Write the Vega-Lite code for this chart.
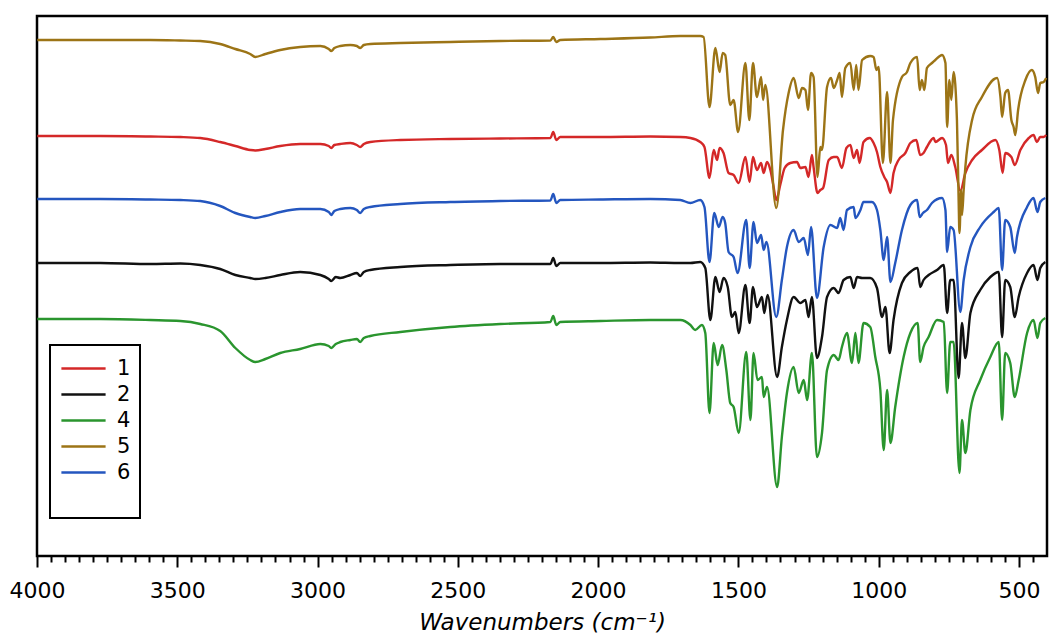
{
"$schema": "https://vega.github.io/schema/vega-lite/v6.json",
"width": 1010, "height": 540,
"autosize": {"type": "none"},
"padding": {"left": 37, "top": 16, "right": 5, "bottom": 83},
"background": "white",
"config": {"view": {"stroke": "black", "strokeWidth": 2.5}, "font": "DejaVu Sans", "legend": {"strokeWidth": 2}},
"datasets": {
"spectra": [
{"s":"4","w":3999,"v":237},{"s":"4","w":3774,"v":237},{"s":"4","w":3596,"v":236},{"s":"4","w":3489,"v":235},{"s":"4","w":3418,"v":232},{"s":"4","w":3347,"v":225},{"s":"4","w":3293,"v":208},{"s":"4","w":3240,"v":196},{"s":"4","w":3222,"v":194},{"s":"4","w":3186,"v":197},{"s":"4","w":3133,"v":203},{"s":"4","w":3062,"v":207},{"s":"4","w":2990,"v":212},{"s":"4","w":2960,"v":210},{"s":"4","w":2951,"v":208},{"s":"4","w":2935,"v":212},{"s":"4","w":2919,"v":214},{"s":"4","w":2883,"v":216},{"s":"4","w":2860,"v":217},{"s":"4","w":2848,"v":214},{"s":"4","w":2835,"v":218},{"s":"4","w":2812,"v":220},{"s":"4","w":2705,"v":224},{"s":"4","w":2527,"v":229},{"s":"4","w":2349,"v":232},{"s":"4","w":2170,"v":234},{"s":"4","w":2160,"v":240},{"s":"4","w":2149,"v":231},{"s":"4","w":2135,"v":234},{"s":"4","w":1992,"v":235},{"s":"4","w":1814,"v":236},{"s":"4","w":1707,"v":236},{"s":"4","w":1671,"v":231},{"s":"4","w":1654,"v":226},{"s":"4","w":1630,"v":231},{"s":"4","w":1618,"v":223},{"s":"4","w":1603,"v":143},{"s":"4","w":1588,"v":213},{"s":"4","w":1574,"v":191},{"s":"4","w":1558,"v":211},{"s":"4","w":1543,"v":186},{"s":"4","w":1529,"v":153},{"s":"4","w":1517,"v":149},{"s":"4","w":1499,"v":123},{"s":"4","w":1472,"v":204},{"s":"4","w":1457,"v":136},{"s":"4","w":1446,"v":203},{"s":"4","w":1432,"v":176},{"s":"4","w":1416,"v":179},{"s":"4","w":1410,"v":159},{"s":"4","w":1398,"v":169},{"s":"4","w":1362,"v":69},{"s":"4","w":1345,"v":119},{"s":"4","w":1327,"v":163},{"s":"4","w":1303,"v":189},{"s":"4","w":1285,"v":163},{"s":"4","w":1267,"v":176},{"s":"4","w":1255,"v":156},{"s":"4","w":1238,"v":203},{"s":"4","w":1220,"v":99},{"s":"4","w":1202,"v":123},{"s":"4","w":1184,"v":186},{"s":"4","w":1160,"v":201},{"s":"4","w":1143,"v":196},{"s":"4","w":1131,"v":209},{"s":"4","w":1113,"v":223},{"s":"4","w":1095,"v":193},{"s":"4","w":1083,"v":223},{"s":"4","w":1072,"v":193},{"s":"4","w":1054,"v":233},{"s":"4","w":1030,"v":229},{"s":"4","w":1012,"v":199},{"s":"4","w":994,"v":166},{"s":"4","w":982,"v":106},{"s":"4","w":970,"v":166},{"s":"4","w":958,"v":113},{"s":"4","w":941,"v":149},{"s":"4","w":911,"v":199},{"s":"4","w":887,"v":223},{"s":"4","w":861,"v":233},{"s":"4","w":852,"v":194},{"s":"4","w":840,"v":209},{"s":"4","w":822,"v":219},{"s":"4","w":792,"v":236},{"s":"4","w":768,"v":234},{"s":"4","w":756,"v":163},{"s":"4","w":745,"v":214},{"s":"4","w":733,"v":214},{"s":"4","w":712,"v":83},{"s":"4","w":703,"v":136},{"s":"4","w":691,"v":103},{"s":"4","w":673,"v":146},{"s":"4","w":638,"v":176},{"s":"4","w":602,"v":199},{"s":"4","w":572,"v":214},{"s":"4","w":560,"v":136},{"s":"4","w":549,"v":203},{"s":"4","w":531,"v":193},{"s":"4","w":515,"v":159},{"s":"4","w":501,"v":176},{"s":"4","w":471,"v":223},{"s":"4","w":448,"v":236},{"s":"4","w":434,"v":218},{"s":"4","w":424,"v":233},{"s":"4","w":406,"v":238},
{"s":"2","w":3999,"v":293},{"s":"2","w":3774,"v":293},{"s":"2","w":3596,"v":292},{"s":"2","w":3489,"v":292.5},{"s":"2","w":3418,"v":291},{"s":"2","w":3347,"v":287},{"s":"2","w":3293,"v":281},{"s":"2","w":3240,"v":278},{"s":"2","w":3222,"v":277},{"s":"2","w":3186,"v":278},{"s":"2","w":3133,"v":281},{"s":"2","w":3062,"v":284},{"s":"2","w":2990,"v":281},{"s":"2","w":2960,"v":277},{"s":"2","w":2951,"v":275},{"s":"2","w":2935,"v":279},{"s":"2","w":2919,"v":278},{"s":"2","w":2883,"v":281},{"s":"2","w":2860,"v":283},{"s":"2","w":2848,"v":280},{"s":"2","w":2835,"v":284},{"s":"2","w":2812,"v":286},{"s":"2","w":2705,"v":289},{"s":"2","w":2527,"v":291},{"s":"2","w":2349,"v":292},{"s":"2","w":2170,"v":292},{"s":"2","w":2160,"v":298},{"s":"2","w":2149,"v":290},{"s":"2","w":2135,"v":293},{"s":"2","w":1992,"v":293},{"s":"2","w":1814,"v":293.5},{"s":"2","w":1707,"v":293},{"s":"2","w":1671,"v":293},{"s":"2","w":1636,"v":294},{"s":"2","w":1618,"v":288},{"s":"2","w":1600,"v":236},{"s":"2","w":1582,"v":279},{"s":"2","w":1567,"v":264},{"s":"2","w":1553,"v":278},{"s":"2","w":1538,"v":269},{"s":"2","w":1523,"v":239},{"s":"2","w":1511,"v":244},{"s":"2","w":1499,"v":223},{"s":"2","w":1475,"v":271},{"s":"2","w":1460,"v":233},{"s":"2","w":1448,"v":269},{"s":"2","w":1434,"v":249},{"s":"2","w":1416,"v":259},{"s":"2","w":1408,"v":243},{"s":"2","w":1396,"v":261},{"s":"2","w":1362,"v":179},{"s":"2","w":1345,"v":209},{"s":"2","w":1327,"v":236},{"s":"2","w":1303,"v":259},{"s":"2","w":1279,"v":253},{"s":"2","w":1261,"v":256},{"s":"2","w":1250,"v":239},{"s":"2","w":1238,"v":259},{"s":"2","w":1220,"v":198},{"s":"2","w":1202,"v":219},{"s":"2","w":1184,"v":259},{"s":"2","w":1160,"v":268},{"s":"2","w":1143,"v":263},{"s":"2","w":1125,"v":276},{"s":"2","w":1101,"v":279},{"s":"2","w":1089,"v":268},{"s":"2","w":1077,"v":279},{"s":"2","w":1059,"v":278},{"s":"2","w":1030,"v":278},{"s":"2","w":1006,"v":268},{"s":"2","w":988,"v":239},{"s":"2","w":976,"v":249},{"s":"2","w":961,"v":203},{"s":"2","w":947,"v":236},{"s":"2","w":917,"v":273},{"s":"2","w":887,"v":284},{"s":"2","w":861,"v":288},{"s":"2","w":852,"v":269},{"s":"2","w":840,"v":276},{"s":"2","w":822,"v":281},{"s":"2","w":792,"v":286},{"s":"2","w":768,"v":291},{"s":"2","w":756,"v":243},{"s":"2","w":745,"v":276},{"s":"2","w":733,"v":276},{"s":"2","w":715,"v":178},{"s":"2","w":703,"v":233},{"s":"2","w":691,"v":198},{"s":"2","w":673,"v":243},{"s":"2","w":638,"v":266},{"s":"2","w":602,"v":279},{"s":"2","w":572,"v":284},{"s":"2","w":560,"v":219},{"s":"2","w":549,"v":276},{"s":"2","w":531,"v":269},{"s":"2","w":515,"v":239},{"s":"2","w":501,"v":259},{"s":"2","w":471,"v":283},{"s":"2","w":448,"v":291},{"s":"2","w":434,"v":276},{"s":"2","w":424,"v":288},{"s":"2","w":406,"v":294},
{"s":"6","w":3999,"v":357},{"s":"6","w":3774,"v":357},{"s":"6","w":3596,"v":356.5},{"s":"6","w":3489,"v":356},{"s":"6","w":3418,"v":355},{"s":"6","w":3347,"v":350},{"s":"6","w":3293,"v":343},{"s":"6","w":3240,"v":339},{"s":"6","w":3222,"v":338},{"s":"6","w":3186,"v":340},{"s":"6","w":3133,"v":344},{"s":"6","w":3062,"v":347},{"s":"6","w":2990,"v":347},{"s":"6","w":2960,"v":344},{"s":"6","w":2951,"v":341},{"s":"6","w":2940,"v":345},{"s":"6","w":2919,"v":347},{"s":"6","w":2883,"v":348},{"s":"6","w":2860,"v":346},{"s":"6","w":2848,"v":343},{"s":"6","w":2835,"v":347},{"s":"6","w":2812,"v":349},{"s":"6","w":2705,"v":352},{"s":"6","w":2527,"v":354},{"s":"6","w":2349,"v":355},{"s":"6","w":2170,"v":355.5},{"s":"6","w":2160,"v":362},{"s":"6","w":2149,"v":353},{"s":"6","w":2135,"v":356},{"s":"6","w":1992,"v":356.5},{"s":"6","w":1814,"v":357},{"s":"6","w":1707,"v":356},{"s":"6","w":1671,"v":353},{"s":"6","w":1636,"v":356},{"s":"6","w":1621,"v":349},{"s":"6","w":1603,"v":294},{"s":"6","w":1586,"v":343},{"s":"6","w":1570,"v":329},{"s":"6","w":1556,"v":339},{"s":"6","w":1547,"v":333},{"s":"6","w":1535,"v":304},{"s":"6","w":1517,"v":299},{"s":"6","w":1503,"v":283},{"s":"6","w":1472,"v":336},{"s":"6","w":1460,"v":288},{"s":"6","w":1446,"v":334},{"s":"6","w":1434,"v":313},{"s":"6","w":1419,"v":321},{"s":"6","w":1410,"v":306},{"s":"6","w":1400,"v":314},{"s":"6","w":1365,"v":239},{"s":"6","w":1345,"v":276},{"s":"6","w":1327,"v":309},{"s":"6","w":1303,"v":326},{"s":"6","w":1285,"v":314},{"s":"6","w":1267,"v":318},{"s":"6","w":1252,"v":301},{"s":"6","w":1241,"v":329},{"s":"6","w":1220,"v":258},{"s":"6","w":1196,"v":309},{"s":"6","w":1172,"v":331},{"s":"6","w":1148,"v":328},{"s":"6","w":1137,"v":338},{"s":"6","w":1125,"v":326},{"s":"6","w":1113,"v":346},{"s":"6","w":1089,"v":349},{"s":"6","w":1083,"v":338},{"s":"6","w":1065,"v":346},{"s":"6","w":1054,"v":354},{"s":"6","w":1024,"v":354},{"s":"6","w":1006,"v":346},{"s":"6","w":994,"v":326},{"s":"6","w":982,"v":296},{"s":"6","w":970,"v":319},{"s":"6","w":958,"v":274},{"s":"6","w":941,"v":293},{"s":"6","w":917,"v":326},{"s":"6","w":887,"v":351},{"s":"6","w":863,"v":356},{"s":"6","w":854,"v":339},{"s":"6","w":842,"v":343},{"s":"6","w":828,"v":346},{"s":"6","w":810,"v":353},{"s":"6","w":774,"v":358},{"s":"6","w":762,"v":346},{"s":"6","w":756,"v":304},{"s":"6","w":745,"v":329},{"s":"6","w":733,"v":326},{"s":"6","w":709,"v":244},{"s":"6","w":697,"v":276},{"s":"6","w":673,"v":309},{"s":"6","w":638,"v":329},{"s":"6","w":590,"v":344},{"s":"6","w":572,"v":348},{"s":"6","w":560,"v":286},{"s":"6","w":549,"v":336},{"s":"6","w":531,"v":329},{"s":"6","w":515,"v":303},{"s":"6","w":507,"v":319},{"s":"6","w":471,"v":349},{"s":"6","w":448,"v":358},{"s":"6","w":434,"v":344},{"s":"6","w":424,"v":354},{"s":"6","w":406,"v":358},
{"s":"1","w":3999,"v":420},{"s":"1","w":3774,"v":420},{"s":"1","w":3596,"v":419.5},{"s":"1","w":3489,"v":419},{"s":"1","w":3418,"v":418},{"s":"1","w":3347,"v":414},{"s":"1","w":3293,"v":410},{"s":"1","w":3240,"v":406},{"s":"1","w":3222,"v":405.5},{"s":"1","w":3186,"v":407},{"s":"1","w":3133,"v":410},{"s":"1","w":3062,"v":412},{"s":"1","w":2990,"v":412},{"s":"1","w":2960,"v":410},{"s":"1","w":2951,"v":408},{"s":"1","w":2940,"v":411},{"s":"1","w":2919,"v":412},{"s":"1","w":2883,"v":413},{"s":"1","w":2860,"v":411},{"s":"1","w":2848,"v":409},{"s":"1","w":2835,"v":412},{"s":"1","w":2812,"v":414},{"s":"1","w":2705,"v":416},{"s":"1","w":2527,"v":417},{"s":"1","w":2349,"v":417.5},{"s":"1","w":2170,"v":418},{"s":"1","w":2160,"v":424},{"s":"1","w":2149,"v":416},{"s":"1","w":2135,"v":419},{"s":"1","w":1992,"v":419},{"s":"1","w":1814,"v":419.5},{"s":"1","w":1707,"v":419},{"s":"1","w":1671,"v":418},{"s":"1","w":1636,"v":414},{"s":"1","w":1621,"v":409},{"s":"1","w":1603,"v":378},{"s":"1","w":1588,"v":406},{"s":"1","w":1576,"v":396},{"s":"1","w":1567,"v":408},{"s":"1","w":1553,"v":403},{"s":"1","w":1535,"v":383},{"s":"1","w":1517,"v":381},{"s":"1","w":1499,"v":373},{"s":"1","w":1475,"v":399},{"s":"1","w":1460,"v":374},{"s":"1","w":1448,"v":399},{"s":"1","w":1434,"v":386},{"s":"1","w":1419,"v":393},{"s":"1","w":1410,"v":383},{"s":"1","w":1398,"v":394},{"s":"1","w":1386,"v":386},{"s":"1","w":1375,"v":370},{"s":"1","w":1365,"v":356},{"s":"1","w":1350,"v":372},{"s":"1","w":1335,"v":388},{"s":"1","w":1315,"v":393},{"s":"1","w":1291,"v":394},{"s":"1","w":1279,"v":388},{"s":"1","w":1261,"v":389},{"s":"1","w":1250,"v":379},{"s":"1","w":1238,"v":401},{"s":"1","w":1232,"v":389},{"s":"1","w":1218,"v":363},{"s":"1","w":1208,"v":366},{"s":"1","w":1198,"v":368},{"s":"1","w":1178,"v":396},{"s":"1","w":1160,"v":399},{"s":"1","w":1148,"v":399},{"s":"1","w":1131,"v":388},{"s":"1","w":1115,"v":408},{"s":"1","w":1101,"v":411},{"s":"1","w":1089,"v":398},{"s":"1","w":1077,"v":406},{"s":"1","w":1068,"v":393},{"s":"1","w":1054,"v":414},{"s":"1","w":1032,"v":418},{"s":"1","w":1018,"v":413},{"s":"1","w":1006,"v":404},{"s":"1","w":994,"v":389},{"s":"1","w":980,"v":379},{"s":"1","w":970,"v":374},{"s":"1","w":958,"v":363},{"s":"1","w":947,"v":383},{"s":"1","w":929,"v":396},{"s":"1","w":905,"v":403},{"s":"1","w":887,"v":413},{"s":"1","w":866,"v":416},{"s":"1","w":852,"v":401},{"s":"1","w":840,"v":403},{"s":"1","w":828,"v":409},{"s":"1","w":804,"v":418},{"s":"1","w":798,"v":414},{"s":"1","w":774,"v":418},{"s":"1","w":760,"v":411},{"s":"1","w":753,"v":393},{"s":"1","w":741,"v":401},{"s":"1","w":727,"v":389},{"s":"1","w":709,"v":365},{"s":"1","w":691,"v":383},{"s":"1","w":667,"v":396},{"s":"1","w":632,"v":406},{"s":"1","w":584,"v":416},{"s":"1","w":570,"v":406},{"s":"1","w":558,"v":383},{"s":"1","w":549,"v":403},{"s":"1","w":527,"v":399},{"s":"1","w":515,"v":391},{"s":"1","w":495,"v":406},{"s":"1","w":465,"v":418},{"s":"1","w":448,"v":421},{"s":"1","w":436,"v":414},{"s":"1","w":424,"v":419},{"s":"1","w":412,"v":419},{"s":"1","w":403,"v":421},
{"s":"5","w":3999,"v":516},{"s":"5","w":3774,"v":516},{"s":"5","w":3596,"v":516},{"s":"5","w":3489,"v":515.5},{"s":"5","w":3418,"v":515},{"s":"5","w":3347,"v":512},{"s":"5","w":3293,"v":507},{"s":"5","w":3240,"v":502},{"s":"5","w":3222,"v":499},{"s":"5","w":3186,"v":502},{"s":"5","w":3133,"v":506},{"s":"5","w":3062,"v":509},{"s":"5","w":2990,"v":510},{"s":"5","w":2960,"v":507},{"s":"5","w":2951,"v":505},{"s":"5","w":2940,"v":508},{"s":"5","w":2919,"v":510},{"s":"5","w":2883,"v":511},{"s":"5","w":2860,"v":510},{"s":"5","w":2848,"v":508},{"s":"5","w":2835,"v":511},{"s":"5","w":2812,"v":512},{"s":"5","w":2705,"v":513},{"s":"5","w":2527,"v":514},{"s":"5","w":2349,"v":515},{"s":"5","w":2170,"v":515.5},{"s":"5","w":2160,"v":519},{"s":"5","w":2149,"v":514},{"s":"5","w":2135,"v":516},{"s":"5","w":1992,"v":517},{"s":"5","w":1814,"v":518.5},{"s":"5","w":1707,"v":520},{"s":"5","w":1671,"v":520},{"s":"5","w":1636,"v":520},{"s":"5","w":1624,"v":519},{"s":"5","w":1603,"v":449},{"s":"5","w":1582,"v":508},{"s":"5","w":1567,"v":484},{"s":"5","w":1556,"v":503},{"s":"5","w":1547,"v":501},{"s":"5","w":1529,"v":451},{"s":"5","w":1517,"v":456},{"s":"5","w":1501,"v":424},{"s":"5","w":1475,"v":493},{"s":"5","w":1461,"v":436},{"s":"5","w":1448,"v":493},{"s":"5","w":1434,"v":459},{"s":"5","w":1419,"v":479},{"s":"5","w":1412,"v":456},{"s":"5","w":1404,"v":471},{"s":"5","w":1365,"v":348},{"s":"5","w":1341,"v":426},{"s":"5","w":1321,"v":463},{"s":"5","w":1303,"v":478},{"s":"5","w":1285,"v":458},{"s":"5","w":1273,"v":468},{"s":"5","w":1261,"v":466},{"s":"5","w":1252,"v":446},{"s":"5","w":1241,"v":483},{"s":"5","w":1232,"v":479},{"s":"5","w":1218,"v":379},{"s":"5","w":1208,"v":409},{"s":"5","w":1202,"v":406},{"s":"5","w":1184,"v":469},{"s":"5","w":1170,"v":478},{"s":"5","w":1160,"v":468},{"s":"5","w":1148,"v":476},{"s":"5","w":1139,"v":483},{"s":"5","w":1131,"v":459},{"s":"5","w":1119,"v":488},{"s":"5","w":1101,"v":493},{"s":"5","w":1089,"v":466},{"s":"5","w":1080,"v":491},{"s":"5","w":1072,"v":466},{"s":"5","w":1059,"v":496},{"s":"5","w":1030,"v":500},{"s":"5","w":1018,"v":499},{"s":"5","w":1008,"v":486},{"s":"5","w":1000,"v":489},{"s":"5","w":985,"v":393},{"s":"5","w":970,"v":464},{"s":"5","w":958,"v":393},{"s":"5","w":949,"v":436},{"s":"5","w":917,"v":479},{"s":"5","w":899,"v":484},{"s":"5","w":887,"v":493},{"s":"5","w":863,"v":499},{"s":"5","w":854,"v":466},{"s":"5","w":846,"v":476},{"s":"5","w":837,"v":466},{"s":"5","w":828,"v":488},{"s":"5","w":810,"v":493},{"s":"5","w":798,"v":496},{"s":"5","w":774,"v":501},{"s":"5","w":762,"v":493},{"s":"5","w":756,"v":429},{"s":"5","w":748,"v":476},{"s":"5","w":741,"v":456},{"s":"5","w":733,"v":484},{"s":"5","w":721,"v":436},{"s":"5","w":715,"v":356},{"s":"5","w":712,"v":323},{"s":"5","w":706,"v":366},{"s":"5","w":703,"v":341},{"s":"5","w":697,"v":366},{"s":"5","w":691,"v":389},{"s":"5","w":667,"v":436},{"s":"5","w":632,"v":459},{"s":"5","w":578,"v":478},{"s":"5","w":566,"v":459},{"s":"5","w":560,"v":439},{"s":"5","w":549,"v":463},{"s":"5","w":539,"v":466},{"s":"5","w":527,"v":436},{"s":"5","w":519,"v":429},{"s":"5","w":513,"v":421},{"s":"5","w":503,"v":446},{"s":"5","w":477,"v":476},{"s":"5","w":454,"v":486},{"s":"5","w":442,"v":479},{"s":"5","w":432,"v":463},{"s":"5","w":424,"v":473},{"s":"5","w":412,"v":474},{"s":"5","w":403,"v":478}
]
},
"data": {"name": "spectra"},
"mark": {"type": "line", "strokeWidth": 2.4, "strokeJoin": "round", "interpolate": "monotone"},
"encoding": {
"x": {"field": "w", "type": "quantitative",
 "scale": {"domain": [400, 4000], "reverse": true, "nice": false, "zero": false},
 "axis": {"title": "Wavenumbers (cm⁻¹)",
  "values": [4000,3950,3900,3850,3800,3750,3700,3650,3600,3550,3500,3450,3400,3350,3300,3250,3200,3150,3100,3050,3000,2950,2900,2850,2800,2750,2700,2650,2600,2550,2500,2450,2400,2350,2300,2250,2200,2150,2100,2050,2000,1950,1900,1850,1800,1750,1700,1650,1600,1550,1500,1450,1400,1350,1300,1250,1200,1150,1100,1050,1000,950,900,850,800,750,700,650,600,550,500,450],
  "format": "d",
  "labelExpr": "datum.value % 500 === 0 ? datum.label : ''",
  "tickSize": {"condition": {"test": "datum.value % 500 === 0", "value": 11}, "value": 6},
  "tickWidth": 2, "tickColor": "black", "domain": false, "grid": false,
  "labelFont": "DejaVu Sans", "labelFontSize": 22, "labelColor": "black", "labelPadding": 13,
  "labelOverlap": false, "labelFlush": false, "labelBound": false,
  "titleFont": "DejaVu Sans", "titleFontSize": 23, "titleFontStyle": "italic", "titleFontWeight": "normal", "titleColor": "black", "titlePadding": 10}},
"y": {"field": "v", "type": "quantitative", "scale": {"domain": [0, 540], "nice": false, "zero": false}, "axis": null},
"color": {"field": "s", "type": "nominal",
 "scale": {"domain": ["1","2","4","5","6"], "range": ["#d42828","#111111","#2a952e","#9c7416","#2456bf"]},
 "legend": {"title": " ", "titleOrient": "bottom", "titleFontSize": 22, "orient": "none", "legendX": 13, "legendY": 329,
  "strokeColor": "black", "fillColor": "white", "padding": 9,
  "symbolType": "M-1.7,0L1.7,0", "symbolSize": 676, "symbolStrokeWidth": 2.5, "symbolOffset": 10,
  "labelFont": "DejaVu Sans", "labelFontSize": 21, "labelColor": "black", "labelOffset": 19, "rowPadding": 1}}
}
}
